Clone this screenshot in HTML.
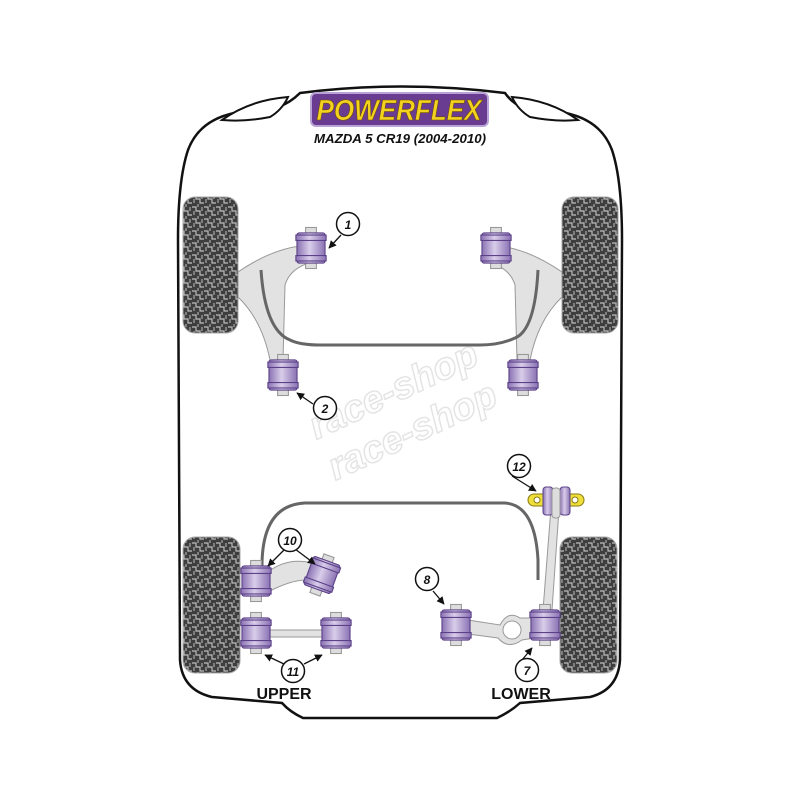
<!DOCTYPE html>
<html><head><style>
html,body{margin:0;padding:0;background:#fff;width:800px;height:800px;overflow:hidden}
svg{display:block}
text{font-family:"Liberation Sans",sans-serif}
</style></head><body>
<svg width="800" height="800" viewBox="0 0 800 800" xmlns="http://www.w3.org/2000/svg">
<defs>
<pattern id="tread" width="12" height="12" patternUnits="userSpaceOnUse">
<rect width="12" height="12" fill="#3e3e3e"/>
<path d="M0 3 H4 V7 H8 V11 H12" fill="none" stroke="#bdbdbd" stroke-width="1.2"/>
<path d="M6 0 V3 M10 3 V7 M2 7 V11" fill="none" stroke="#bdbdbd" stroke-width="1"/>
</pattern>
<linearGradient id="bush" x1="0" x2="1">
<stop offset="0" stop-color="#8a72b3"/><stop offset="0.45" stop-color="#d9cdea"/><stop offset="1" stop-color="#8a72b3"/>
</linearGradient>
<marker id="ar" viewBox="0 0 10 10" refX="9" refY="5" markerWidth="6" markerHeight="6" orient="auto"><path d="M0 0 L10 5 L0 10 Z" fill="#111"/></marker>
<g id="b0">
<rect x="-5" y="-19" width="10" height="38" fill="#ddd" stroke="#999"/>
<rect x="-13" y="-14" width="26" height="28" rx="2" fill="url(#bush)" stroke="#5a3f86"/>
<rect x="-14" y="-12" width="28" height="5" fill="url(#bush)" stroke="#5a3f86"/>
<rect x="-14" y="7" width="28" height="5" fill="url(#bush)" stroke="#5a3f86"/>
</g>
<g id="b"><use href="#b0" transform="scale(1.08)"/></g>
</defs>
<!-- body -->
<path d="M300 93 Q400 80 505 93 Q512 103 522 107 L560 112 Q600 118 612 150 Q622 180 622 240 L620 660 Q618 690 590 697 L520 703 Q510 712 497 718 L303 718 Q290 712 282 703 L212 697 Q182 690 180 660 L178 240 Q178 180 188 150 Q200 118 240 112 L278 107 Q290 103 300 93 Z" fill="#fff" stroke="#111" stroke-width="2.5"/>
<path d="M222 120 Q250 100 288 97 Q282 110 270 117 Q245 122 222 120Z" fill="#fff" stroke="#111" stroke-width="2"/>
<path d="M578 120 Q550 100 512 97 Q518 110 530 117 Q555 122 578 120Z" fill="#fff" stroke="#111" stroke-width="2"/>
<!-- logo -->
<rect x="311" y="93" width="177" height="33" rx="5" fill="#6a3c91" stroke="#b9a3d6" stroke-width="2"/>
<text x="399" y="120" text-anchor="middle" font-size="29" font-weight="bold" font-style="italic" fill="#f2d21e" stroke="#6b4b00" stroke-width="0.6" textLength="165" lengthAdjust="spacingAndGlyphs">POWERFLEX</text>
<text x="400" y="143" text-anchor="middle" font-size="12.5" font-weight="bold" font-style="italic" fill="#111" textLength="172" lengthAdjust="spacingAndGlyphs">MAZDA 5 CR19 (2004-2010)</text>
<!-- wheels -->
<rect x="183" y="197" width="55" height="136" rx="12" fill="url(#tread)" stroke="#aaa"/>
<rect x="562" y="197" width="56" height="136" rx="12" fill="url(#tread)" stroke="#aaa"/>
<rect x="183" y="537" width="57" height="136" rx="12" fill="url(#tread)" stroke="#aaa"/>
<rect x="560" y="537" width="57" height="136" rx="12" fill="url(#tread)" stroke="#aaa"/>
<!-- watermark -->
<g opacity="0.22" transform="rotate(-25 405 415)">
<text x="405" y="400" text-anchor="middle" font-size="38" font-weight="bold" font-style="italic" fill="none" stroke="#888" stroke-width="1.5">race-shop</text>
<text x="405" y="445" text-anchor="middle" font-size="38" font-weight="bold" font-style="italic" fill="none" stroke="#888" stroke-width="1.5">race-shop</text>
</g>
<!-- front arms -->
<path d="M238 272 Q270 250 300 246 L312 262 Q290 268 285 285 L283 360 L270 360 Q262 320 238 297 Z" fill="#e2e2e2" stroke="#999"/>
<path d="M562 272 Q530 250 500 246 L488 262 Q510 268 515 285 L517 360 L530 360 Q538 320 562 297 Z" fill="#e2e2e2" stroke="#999"/>
<path d="M261 270 Q265 330 290 340 Q300 345 320 345 L480 345 Q500 345 515 338 Q535 330 538 270" fill="none" stroke="#666" stroke-width="3"/>
<use href="#b" x="311" y="248"/>
<use href="#b" x="496" y="248"/>
<use href="#b" x="283" y="375"/>
<use href="#b" x="523" y="375"/>
<!-- rear -->
<path d="M262 566 Q262 505 305 503 L505 503 Q535 505 538 560 L538 580" fill="none" stroke="#666" stroke-width="3"/>
<path d="M268 572 Q290 555 320 565 L318 582 Q300 575 268 592 Z" fill="#e2e2e2" stroke="#999"/>
<rect x="268" y="630" width="60" height="7" fill="#e2e2e2" stroke="#999"/>
<path d="M468 620 L500 625 Q508 610 520 618 L535 618 L535 638 L522 640 Q508 650 498 638 L468 634 Z" fill="#e2e2e2" stroke="#999"/>
<circle cx="512" cy="630" r="9" fill="#fff" stroke="#999"/>
<path d="M543 610 L552 495 L560 495 L552 610 Z" fill="#e2e2e2" stroke="#999"/>
<rect x="528" y="494" width="56" height="12" rx="6" fill="#efdf3a" stroke="#8a7a10"/>
<circle cx="537" cy="500" r="3" fill="#fff" stroke="#8a7a10"/>
<circle cx="575" cy="500" r="3" fill="#fff" stroke="#8a7a10"/>
<rect x="543" y="487" width="10" height="28" rx="3" fill="url(#bush)" stroke="#5a3f86"/>
<rect x="560" y="487" width="10" height="28" rx="3" fill="url(#bush)" stroke="#5a3f86"/>
<rect x="552" y="488" width="8" height="30" rx="3" fill="#ddd" stroke="#999"/>
<use href="#b" x="256" y="581"/>
<use href="#b" x="322" y="575" transform="rotate(20 322 575)"/>
<use href="#b" x="256" y="633"/>
<use href="#b" x="336" y="633"/>
<use href="#b" x="456" y="625"/>
<use href="#b" x="545" y="625"/>
<!-- callouts -->
<g fill="none" stroke="#111" stroke-width="1.3" marker-end="url(#ar)">
<path d="M341 235 L329 248"/><path d="M313 404 L297 393"/>
<path d="M512 476 L536 491"/><path d="M285 549 L268 566"/><path d="M295 549 L315 564"/>
<path d="M433 591 L444 604"/><path d="M284 664 L265 655"/><path d="M304 664 L322 655"/>
<path d="M522 660 L532 648"/>
</g>
<g fill="#fff" stroke="#111" stroke-width="1.5">
<circle cx="348" cy="224" r="11.5"/><circle cx="325" cy="408" r="11.5"/>
<circle cx="519" cy="466" r="11.5"/><circle cx="290" cy="540" r="11.5"/>
<circle cx="427" cy="579" r="11.5"/><circle cx="293" cy="671" r="11.5"/>
<circle cx="527" cy="670" r="11.5"/>
</g>
<g font-size="12" font-weight="bold" font-style="italic" text-anchor="middle" fill="#111">
<text x="348" y="229">1</text><text x="325" y="413">2</text>
<text x="519" y="471">12</text><text x="290" y="545">10</text>
<text x="427" y="584">8</text><text x="293" y="676">11</text>
<text x="527" y="675">7</text>
</g>
<text x="284" y="699" text-anchor="middle" font-size="16" font-weight="bold" fill="#111">UPPER</text>
<text x="521" y="699" text-anchor="middle" font-size="16" font-weight="bold" fill="#111">LOWER</text>
</svg>
</body></html>
